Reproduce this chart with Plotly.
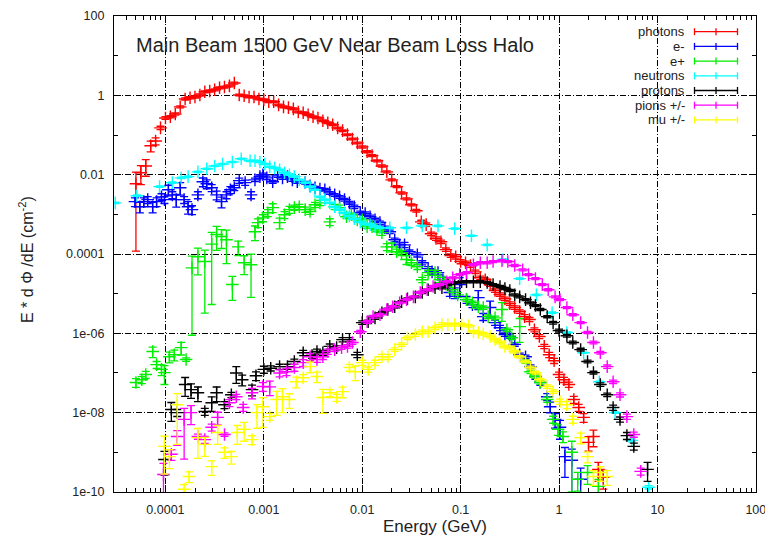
import numpy as np
import plotly.graph_objects as go

# ---------------- data (log10 of energy in GeV, log10 of E*dPhi/dE, relative error) -------------
photons_logE = [-4.30,-4.25,-4.20,-4.15,-4.10,-4.05,-4.00,-3.95,-3.90,-3.85,
                -3.80,-3.75,-3.70,-3.65,-3.60,-3.55,-3.50,-3.45,-3.40,-3.35,
                -3.30,-3.25,-3.20,-3.15,-3.10,-3.05,-3.00,-2.95,-2.90,-2.85,
                -2.80,-2.75,-2.70,-2.65,-2.60,-2.55,-2.50,-2.45,-2.40,-2.35,
                -2.30,-2.25,-2.20,-2.15,-2.10,-2.05,-2.00,-1.95,-1.90,-1.85,
                -1.80,-1.75,-1.70,-1.65,-1.60,-1.55,-1.50,-1.45,-1.40,-1.35,
                -1.30,-1.25,-1.20,-1.15,-1.10,-1.05,-1.00,-0.95,-0.90,-0.85,
                -0.80,-0.75,-0.70,-0.65,-0.60,-0.55,-0.50,-0.45,-0.40,-0.35,
                -0.30,-0.25,-0.20,-0.15,-0.10,-0.05,0.00,0.05,0.10,0.15,
                0.20,0.25,0.30,0.35,0.40,0.45]
photons_logY = [-2.23,-1.95,-1.78,-1.27,-1.15,-0.82,-0.57,-0.54,-0.47,-0.29,
                -0.09,-0.06,-0.04,0.01,0.09,0.11,0.14,0.19,0.21,0.24,
                0.31,0.01,-0.01,-0.04,-0.04,-0.09,-0.11,-0.16,-0.16,-0.24,
                -0.29,-0.31,-0.34,-0.42,-0.44,-0.49,-0.54,-0.57,-0.64,-0.69,
                -0.74,-0.82,-0.89,-0.99,-1.10,-1.20,-1.30,-1.42,-1.52,-1.65,
                -1.78,-1.93,-2.13,-2.30,-2.46,-2.61,-2.76,-2.91,-3.19,-3.26,
                -3.49,-3.61,-3.69,-3.89,-4.04,-4.07,-4.19,-4.22,-4.29,-4.45,
                -4.60,-4.65,-4.77,-4.92,-5.02,-5.13,-5.25,-5.35,-5.45,-5.58,
                -5.65,-5.91,-6.08,-6.33,-6.54,-6.69,-7.04,-7.17,-7.29,-7.67,
                -7.87,-8.12,-8.75,-8.60,-9.43,-9.63]
photons_relerr = [.98,.5,.45,.3,.2,.1,.08,.06,.06,.06,
                  .06,.06,.06,.06,.06,.06,.06,.06,.06,.06,
                  .06,.05,.05,.05,.05,.05,.05,.05,.05,.05,
                  .05,.05,.05,.05,.05,.05,.05,.05,.05,.05,
                  .05,.05,.05,.05,.05,.05,.06,.06,.06,.06,
                  .06,.06,.06,.06,.06,.06,.06,.08,.1,.1,
                  .1,.1,.1,.1,.1,.12,.12,.1,.1,.1,
                  .1,.1,.1,.1,.1,.1,.1,.1,.1,.12,
                  .12,.12,.12,.12,.15,.15,.15,.15,.15,.2,
                  .2,.25,.4,.45,.5,.5]

electrons_logE = [-4.31,-4.26,-4.22,-4.18,-4.13,-4.09,-4.04,-4.01,-3.97,-3.93,
                  -3.89,-3.85,-3.81,-3.77,-3.73,-3.67,-3.62,-3.58,-3.53,-3.48,
                  -3.43,-3.38,-3.34,-3.30,-3.25,-3.19,-3.13,-3.09,-3.04,-3.01,
                  -2.97,-2.91,-2.86,-2.81,-2.76,-2.71,-2.66,-2.58,-2.53,-2.48,
                  -2.43,-2.38,-2.33,-2.28,-2.23,-2.18,-2.13,-2.08,-2.02,-1.97,
                  -1.92,-1.87,-1.82,-1.77,-1.72,-1.67,-1.62,-1.57,-1.52,-1.44,
                  -1.39,-1.33,-1.29,-1.23,-1.18,-1.11,-1.06,-1.01,-0.94,-0.88,
                  -0.82,-0.77,-0.70,-0.65,-0.60,-0.55,-0.50,-0.45,-0.40,-0.34,
                  -0.29,-0.24,-0.19,-0.12,-0.09,-0.04,0.01,0.06,0.13,0.22]
electrons_logY = [-2.68,-2.81,-2.68,-2.63,-2.81,-2.68,-2.56,-2.63,-2.38,-2.51,
                  -2.63,-2.33,-2.63,-2.81,-2.88,-2.51,-2.18,-2.23,-2.33,-2.51,
                  -2.68,-2.51,-2.38,-2.33,-2.15,-2.20,-2.51,-2.13,-2.05,-2.00,
                  -2.08,-2.18,-2.03,-2.08,-2.05,-2.13,-2.18,-2.20,-2.28,-2.33,
                  -2.36,-2.38,-2.46,-2.51,-2.56,-2.63,-2.71,-2.81,-2.96,-2.98,
                  -3.06,-3.14,-3.21,-3.34,-3.44,-3.64,-3.77,-3.77,-3.94,-4.02,
                  -4.22,-4.37,-4.45,-4.47,-4.65,-4.97,-4.97,-4.77,-5.15,-5.28,
                  -5.10,-5.58,-5.35,-5.73,-5.86,-6.03,-6.08,-6.28,-6.54,-6.59,
                  -6.84,-7.09,-7.24,-7.60,-7.85,-8.17,-8.37,-9.11,-9.20,-9.68]
electrons_relerr = [.25,.3,.25,.2,.3,.25,.2,.2,.3,.2,
                    .35,.35,.2,.35,.25,.2,.25,.25,.2,.25,
                    .3,.2,.2,.15,.15,.15,.2,.1,.1,.1,
                    .1,.08,.08,.08,.08,.08,.08,.08,.08,.08,
                    .08,.08,.08,.08,.08,.08,.08,.1,.1,.1,
                    .1,.1,.1,.1,.1,.1,.12,.15,.1,.12,
                    .12,.12,.12,.12,.15,.2,.3,.5,.2,.15,
                    .5,.2,.45,.15,.15,.1,.1,.1,.1,.1,
                    .1,.15,.15,.2,.3,.4,.5,.7,.9,.9]

positrons_logE = [-4.30,-4.24,-4.20,-4.13,-4.09,-4.04,-4.01,-3.96,-3.91,-3.84,
                  -3.79,-3.73,-3.67,-3.60,-3.53,-3.48,-3.43,-3.38,-3.32,-3.26,
                  -3.20,-3.13,-3.09,-3.06,-3.01,-2.96,-2.91,-2.84,-2.79,-2.74,
                  -2.69,-2.64,-2.58,-2.53,-2.48,-2.43,-2.33,-2.28,-2.23,-2.16,
                  -2.11,-2.05,-2.00,-1.95,-1.90,-1.85,-1.80,-1.75,-1.70,-1.65,
                  -1.60,-1.55,-1.50,-1.44,-1.39,-1.33,-1.26,-1.21,-1.16,-1.09,
                  -1.03,-0.94,-0.88,-0.82,-0.77,-0.72,-0.65,-0.58,-0.53,-0.48,
                  -0.40,-0.34,-0.29,-0.24,-0.19,-0.12,-0.06,-0.01,0.04,0.13,
                  0.19,0.29,0.40]
positrons_logY = [-7.24,-7.17,-7.04,-6.46,-6.79,-6.91,-6.99,-6.59,-6.54,-6.36,
                  -6.66,-4.35,-4.07,-4.19,-3.75,-3.51,-3.56,-3.64,-4.77,-3.82,
                  -4.22,-4.27,-3.44,-3.21,-3.09,-2.96,-2.83,-3.21,-3.01,-2.88,
                  -2.83,-2.81,-2.88,-2.93,-2.76,-2.71,-3.19,-2.81,-2.83,-3.06,
                  -3.01,-3.14,-3.14,-3.31,-3.31,-3.39,-3.46,-3.82,-3.82,-3.94,
                  -3.97,-4.14,-4.22,-4.32,-4.65,-4.47,-4.47,-4.65,-4.70,-4.90,
                  -5.03,-5.15,-5.23,-5.33,-5.35,-5.58,-5.61,-5.40,-5.91,-6.11,
                  -5.83,-6.71,-6.97,-7.09,-7.24,-7.67,-8.17,-8.42,-8.60,-9.00,
                  -9.68,-9.51,-9.86]
positrons_relerr = [.25,.2,.2,.3,.2,.3,.5,.3,.3,.35,
                    .1,.98,.65,.95,.97,.6,.5,.75,.6,.4,
                    .5,.85,.4,.25,.2,.2,.25,.3,.2,.2,
                    .15,.15,.15,.15,.15,.15,.2,.15,.15,.1,
                    .1,.1,.1,.1,.1,.1,.15,.2,.25,.15,
                    .15,.25,.15,.15,.15,.15,.15,.15,.15,.15,
                    .15,.1,.1,.1,.1,.1,.1,.5,.1,.1,
                    .6,.1,.1,.1,.1,.15,.2,.3,.3,.9,
                    .5,.5,.5]

neutrons_logE = [-4.51,-4.29,-4.06,-3.93,-3.84,-3.77,-3.67,-3.58,-3.50,-3.42,
                 -3.32,-3.23,-3.14,-3.09,-3.04,-2.99,-2.94,-2.89,-2.84,-2.79,
                 -2.74,-2.69,-2.64,-2.58,-2.53,-2.48,-2.43,-2.38,-2.33,-2.28,
                 -2.23,-2.18,-2.13,-2.08,-2.02,-1.97,-1.92,-1.87,-1.82,-1.72,
                 -1.55,-1.39,-1.23,-1.06,-0.89,-0.73,-0.57,-0.40,-0.23,-0.07,
                 0.08,0.25,0.41,0.57,0.74,0.91]
neutrons_logY = [-2.71,-2.53,-2.30,-2.20,-2.08,-2.05,-1.93,-1.85,-1.78,-1.73,
                 -1.68,-1.60,-1.65,-1.65,-1.68,-1.73,-1.80,-1.83,-1.88,-1.95,
                 -2.00,-2.05,-2.13,-2.20,-2.30,-2.38,-2.56,-2.63,-2.71,-2.81,
                 -2.88,-2.96,-3.04,-3.11,-3.19,-3.24,-3.26,-3.31,-3.34,-3.34,
                 -3.34,-3.29,-3.29,-3.36,-3.54,-3.77,-4.14,-4.62,-5.03,-5.48,
                 -5.98,-6.49,-7.22,-8.00,-8.70,-9.88]
neutrons_relerr = [.04,.04,.04,.04,.04,.04,.04,.04,.04,.04,
                   .04,.04,.04,.04,.04,.04,.04,.04,.04,.04,
                   .04,.04,.04,.04,.04,.04,.04,.04,.04,.04,
                   .04,.04,.04,.04,.04,.04,.04,.04,.04,.04,
                   .04,.04,.04,.04,.04,.04,.04,.04,.04,.04,
                   .04,.04,.04,.04,.08,.1]

protons_logE = [-4.01,-3.94,-3.88,-3.80,-3.74,-3.67,-3.60,-3.53,-3.48,-3.40,
                -3.33,-3.28,-3.22,-3.12,-3.08,-3.00,-2.93,-2.84,-2.76,-2.69,
                -2.60,-2.51,-2.46,-2.40,-2.33,-2.26,-2.20,-2.13,-2.05,-2.00,
                -1.94,-1.87,-1.80,-1.74,-1.67,-1.60,-1.54,-1.46,-1.39,-1.33,
                -1.26,-1.19,-1.13,-1.06,-0.99,-0.94,-0.87,-0.80,-0.73,-0.67,
                -0.60,-0.55,-0.50,-0.45,-0.40,-0.34,-0.29,-0.24,-0.19,-0.12,
                -0.06,0.00,0.08,0.14,0.22,0.29,0.35,0.42,0.49,0.55,
                0.62,0.69,0.76,0.90]
protons_logY = [-9.18,-7.92,-8.00,-7.29,-7.42,-7.50,-7.97,-7.75,-7.50,-7.80,
                -7.55,-7.00,-7.17,-7.42,-7.07,-6.91,-6.88,-6.84,-6.84,-6.71,
                -6.49,-6.56,-6.46,-6.49,-6.33,-6.36,-6.16,-6.16,-6.54,-5.73,
                -5.71,-5.61,-5.48,-5.40,-5.33,-5.20,-5.13,-5.08,-4.97,-4.90,
                -4.85,-4.85,-4.77,-4.72,-4.70,-4.70,-4.70,-4.70,-4.72,-4.77,
                -4.82,-4.87,-4.92,-5.03,-5.08,-5.15,-5.23,-5.30,-5.40,-5.58,
                -5.73,-5.93,-6.06,-6.23,-6.41,-6.71,-6.99,-7.29,-7.55,-7.87,
                -8.17,-8.58,-8.85,-9.43]
protons_relerr = [.6,.5,.2,.5,.4,.4,.2,.4,.4,.2,
                  .15,.45,.3,.3,.25,.2,.15,.15,.15,.15,
                  .15,.15,.15,.15,.15,.12,.12,.12,.15,.1,
                  .1,.08,.08,.08,.08,.06,.06,.06,.06,.06,
                  .06,.06,.06,.06,.06,.06,.06,.06,.06,.06,
                  .06,.06,.06,.06,.06,.06,.06,.06,.06,.06,
                  .08,.08,.08,.08,.08,.08,.08,.1,.1,.15,
                  .15,.2,.2,.5]

pions_logE = [-4.02,-3.94,-3.88,-3.81,-3.74,-3.67,-3.60,-3.53,-3.47,-3.40,
              -3.35,-3.28,-3.21,-3.12,-3.01,-2.94,-2.84,-2.77,-2.69,-2.60,
              -2.53,-2.46,-2.40,-2.35,-2.28,-2.21,-2.15,-2.10,-2.02,-1.95,
              -1.89,-1.82,-1.75,-1.69,-1.62,-1.55,-1.48,-1.41,-1.34,-1.28,
              -1.21,-1.14,-1.08,-1.01,-0.94,-0.87,-0.80,-0.73,-0.67,-0.58,
              -0.52,-0.45,-0.37,-0.31,-0.24,-0.17,-0.11,-0.04,0.01,0.08,
              0.14,0.22,0.29,0.35,0.42,0.49,0.55,0.62,0.69,0.76,
              0.83]
pions_logY = [-9.56,-9.05,-8.60,-8.17,-8.00,-8.60,-8.68,-8.37,-8.12,-8.55,
              -7.75,-7.60,-7.87,-7.50,-7.34,-7.35,-7.00,-6.97,-6.86,-6.74,
              -6.59,-6.66,-6.59,-6.46,-6.41,-6.36,-6.33,-6.23,-5.96,-5.71,
              -5.58,-5.53,-5.40,-5.33,-5.23,-5.15,-5.08,-4.97,-4.90,-4.82,
              -4.77,-4.70,-4.60,-4.52,-4.47,-4.27,-4.22,-4.22,-4.19,-4.17,
              -4.19,-4.29,-4.40,-4.52,-4.62,-4.77,-4.90,-5.08,-5.15,-5.35,
              -5.53,-5.73,-5.98,-6.23,-6.49,-6.84,-7.22,-7.55,-8.10,-8.55,
              -9.48]
pions_relerr = [.9,.3,.4,.9,.5,.15,.2,.2,.35,.1,
                .2,.15,.2,.3,.25,.4,.2,.2,.2,.2,
                .2,.15,.15,.15,.1,.1,.1,.1,.08,.08,
                .08,.08,.06,.06,.06,.06,.06,.06,.06,.06,
                .06,.06,.06,.06,.06,.06,.06,.06,.06,.06,
                .06,.06,.06,.06,.06,.06,.06,.06,.06,.06,
                .06,.06,.06,.08,.08,.1,.1,.12,.15,.15,
                .2]

muons_logE = [-4.01,-3.96,-3.88,-3.81,-3.76,-3.67,-3.60,-3.53,-3.47,-3.40,
              -3.33,-3.27,-3.20,-3.12,-3.07,-3.01,-2.94,-2.87,-2.81,-2.74,
              -2.67,-2.60,-2.53,-2.46,-2.40,-2.33,-2.26,-2.20,-2.13,-2.07,
              -2.00,-1.94,-1.87,-1.80,-1.74,-1.67,-1.60,-1.54,-1.46,-1.39,
              -1.33,-1.26,-1.19,-1.13,-1.06,-0.99,-0.92,-0.87,-0.82,-0.77,
              -0.70,-0.65,-0.60,-0.55,-0.50,-0.45,-0.40,-0.34,-0.29,-0.24,
              -0.19,-0.12,-0.06,0.01,0.08,0.14,0.22,0.29,0.35,0.42,
              0.49]
muons_logY = [-8.85,-9.11,-7.80,-9.93,-9.61,-8.63,-8.80,-9.36,-8.50,-9.00,
              -9.11,-8.50,-8.42,-8.68,-8.00,-7.85,-8.10,-7.67,-7.60,-7.67,
              -7.22,-7.12,-6.84,-7.09,-7.62,-7.50,-7.62,-7.47,-6.86,-6.97,
              -6.74,-6.91,-6.74,-6.59,-6.59,-6.41,-6.28,-6.11,-6.03,-5.96,
              -5.96,-5.86,-5.78,-5.78,-5.78,-5.78,-5.81,-5.96,-5.98,-6.01,
              -6.08,-6.16,-6.23,-6.33,-6.36,-6.46,-6.59,-6.71,-6.86,-6.99,
              -7.17,-7.34,-7.47,-7.72,-7.80,-8.17,-8.63,-9.11,-9.61,-9.51,
              -9.61]
muons_relerr = [.8,.5,.9,.3,.3,.7,.5,.4,.5,.3,
                .35,.5,.5,.25,.6,.7,.2,.6,.6,.4,
                .3,.2,.3,.3,.6,.2,.2,.3,.2,.4,
                .15,.15,.15,.15,.15,.1,.1,.1,.1,.1,
                .1,.1,.1,.08,.08,.08,.08,.08,.08,.08,
                .08,.08,.08,.08,.08,.08,.08,.08,.08,.08,
                .08,.1,.1,.15,.2,.2,.3,.3,.4,.4,
                .4]

series_names = ["photons", "e-", "e+", "neutrons", "protons", "pions +/-", "mu +/-"]
series_colors = ["#ff0000", "#0000ff", "#00ee00", "#00ffff", "#000000", "#ff00ff", "#ffff00"]
series_data = [
    (photons_logE, photons_logY, photons_relerr),
    (electrons_logE, electrons_logY, electrons_relerr),
    (positrons_logE, positrons_logY, positrons_relerr),
    (neutrons_logE, neutrons_logY, neutrons_relerr),
    (protons_logE, protons_logY, protons_relerr),
    (pions_logE, pions_logY, pions_relerr),
    (muons_logE, muons_logY, muons_relerr),
]

x_tickvals = [1e-4, 1e-3, 1e-2, 1e-1, 1, 10, 100]
x_ticktext = ["0.0001", "0.001", "0.01", "0.1", "1", "10", "100"]
y_tickvals = [1e2, 1, 1e-2, 1e-4, 1e-6, 1e-8, 1e-10]
y_ticktext = ["100", "1", "0.01", "0.0001", "1e-06", "1e-08", "1e-10"]

# ---------------- figure ----------------
W, H = 765, 542
ML, MR, MT, MB = 114, 9, 16, 50
PW, PH = W - ML - MR, H - MT - MB
FONT = "Liberation Sans, Arial, Helvetica, sans-serif"
TXT = "#222222"


def px(xp):
    return (xp - ML) / PW


def py(yp):
    return (H - MB - yp) / PH


fig = go.Figure()
for name, color, (lx, ly, rr) in zip(series_names, series_colors, series_data):
    x = 10 ** np.array(lx)
    y = 10 ** np.array(ly)
    e = y * np.array(rr)
    fig.add_trace(go.Scatter(
        x=x, y=y, mode="markers", name=name, showlegend=False,
        marker=dict(symbol="cross-thin", size=9, color=color,
                    line=dict(width=1.4, color=color)),
        error_y=dict(type="data", symmetric=False, array=e, arrayminus=e,
                     color=color, thickness=1.3, width=4),
    ))

grid_dash = "6px,2px,1px,2px"
axis_common = dict(
    type="log", showline=True, linecolor="#000000", linewidth=1.3, mirror="ticks",
    ticks="inside", ticklen=7, tickcolor="#000000", tickwidth=1,
    showgrid=True, gridcolor="#000000", gridwidth=1, griddash=grid_dash,
    zeroline=False, tickfont=dict(family=FONT, size=12.5, color=TXT),
    tickmode="array", ticklabeloverflow="allow", automargin=False,
)

fig.update_xaxes(**axis_common, range=[np.log10(3e-5), 2.002],
                 tickvals=x_tickvals, ticktext=x_ticktext, ticklabelstandoff=6,
                 minor=dict(ticks="inside", ticklen=4, dtick="D1", tickcolor="#000000",
                            showgrid=False))
fig.update_yaxes(**axis_common, range=[-10.001, 2.001],
                 tickvals=y_tickvals, ticktext=y_ticktext, ticklabelstandoff=6,
                 minor=dict(ticks="inside", ticklen=4, dtick=1, tick0=0, tickcolor="#000000",
                            showgrid=False))

annotations = [
    dict(text="Main Beam 1500 GeV Near Beam Loss Halo", x=px(134), y=py(45),
         xref="paper", yref="paper", xanchor="left", yanchor="middle", showarrow=False,
         font=dict(family=FONT, size=20, color=TXT)),
    dict(text="Energy (GeV)", x=px(435), y=py(526), xref="paper", yref="paper",
         xanchor="center", yanchor="middle", showarrow=False,
         font=dict(family=FONT, size=17, color=TXT)),
    dict(text="E * d \u03a6 /dE (cm<sup>-2</sup>)", x=px(26), y=py(260), xref="paper", yref="paper",
         xanchor="center", yanchor="middle", showarrow=False, textangle=-90,
         font=dict(family=FONT, size=16, color=TXT)),
]

shapes = [dict(type="rect", xref="paper", yref="paper", x0=px(605), x1=px(748),
               y0=py(131), y1=py(24), fillcolor="#ffffff", line=dict(width=0), layer="between")]

row0, drow = 31.7, 14.7
for i, (name, color) in enumerate(zip(series_names, series_colors)):
    yc = row0 + i * drow
    annotations.append(dict(text=name, x=px(687), y=py(yc), xref="paper", yref="paper",
                            xanchor="right", yanchor="middle", showarrow=False,
                            font=dict(family=FONT, size=13, color=TXT)))
    x0, x1 = 694.5, 737.5
    shapes.append(dict(type="line", xref="paper", yref="paper", x0=px(x0), x1=px(x1),
                       y0=py(yc), y1=py(yc), line=dict(color=color, width=1.3), layer="above"))
    for xc in (x0, (x0 + x1) / 2, x1):
        shapes.append(dict(type="line", xref="paper", yref="paper", x0=px(xc), x1=px(xc),
                           y0=py(yc - 3.5), y1=py(yc + 3.5),
                           line=dict(color=color, width=1.3), layer="above"))

fig.update_layout(
    width=W, height=H, autosize=False,
    margin=dict(l=ML, r=MR, t=MT, b=MB, pad=0, autoexpand=False),
    paper_bgcolor="#ffffff", plot_bgcolor="#ffffff",
    showlegend=False, annotations=annotations, shapes=shapes,
    font=dict(family=FONT, color=TXT),
)

fig.write_html("out.html")
